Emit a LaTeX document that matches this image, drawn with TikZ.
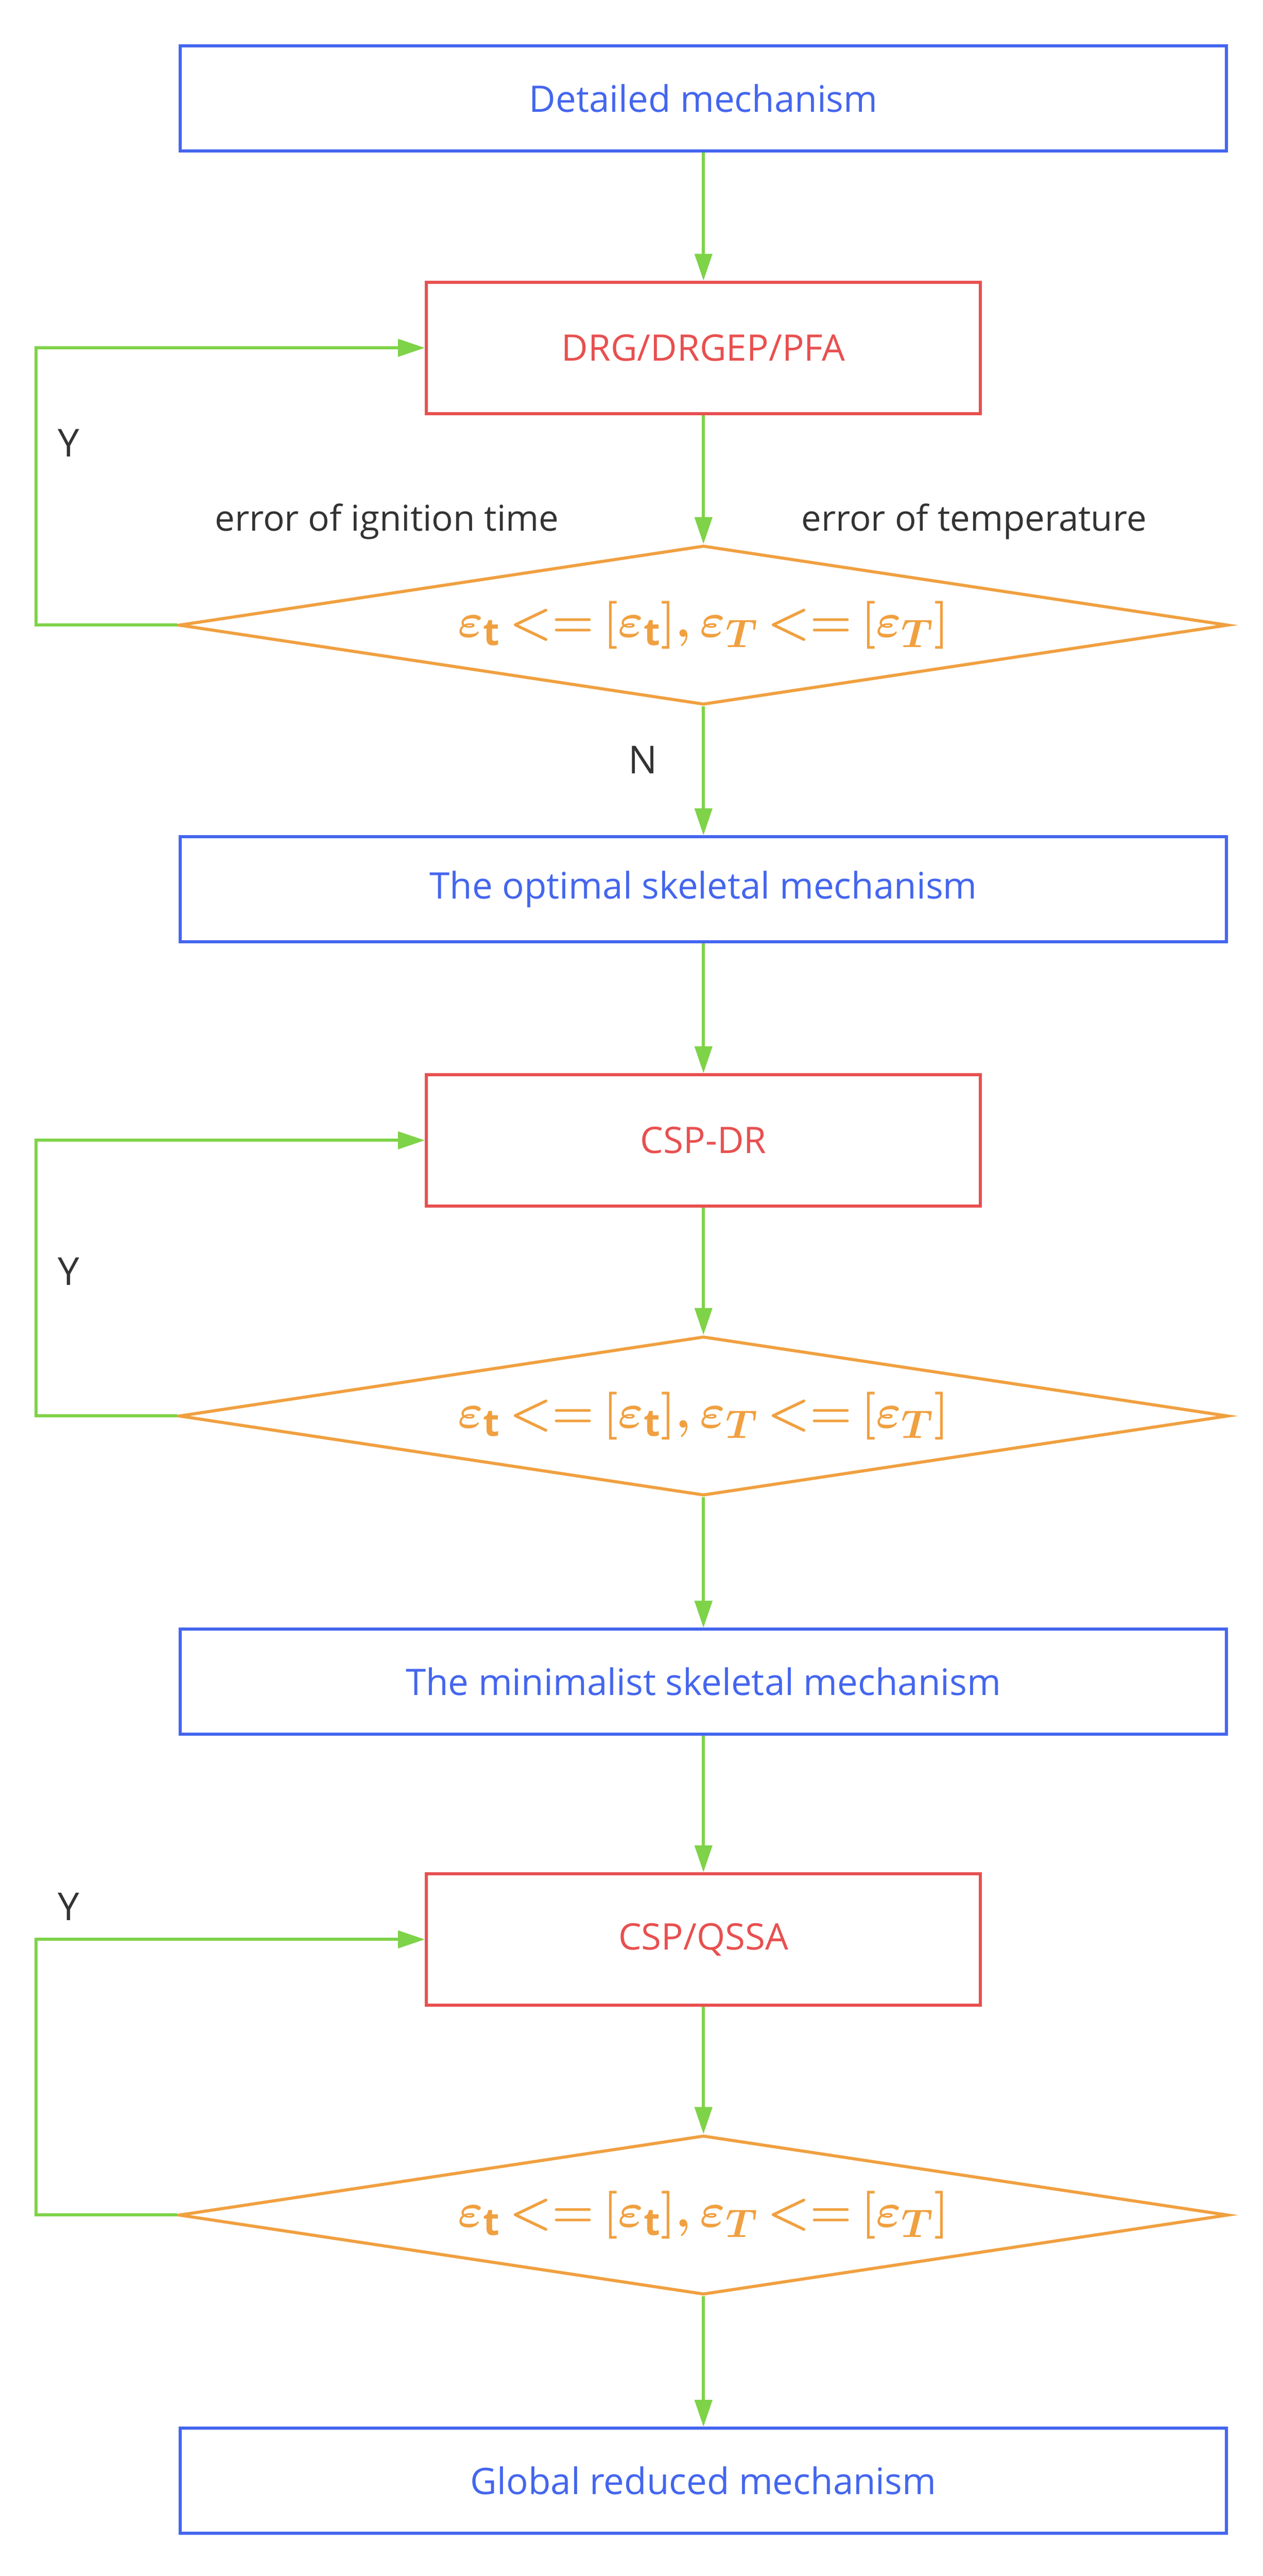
\documentclass[tikz,border=0pt]{standalone}
\usepackage{fontspec}
\setmainfont{Open Sans}
\usepackage{amsmath}
\usetikzlibrary{arrows.meta,shapes.geometric}
\definecolor{cblue}{HTML}{4466EE}
\definecolor{cred}{HTML}{E85050}
\definecolor{corange}{HTML}{F0A040}
\definecolor{cgreen}{HTML}{7ED348}
\definecolor{ctext}{HTML}{333333}
\begin{document}
\begin{tikzpicture}[x=0.03cm,y=-0.03cm,
  bbox/.style={draw=cblue,line width=1.6pt,minimum width=638*0.03cm,minimum height=64*0.03cm,text=cblue,font=\fontsize{19}{23}\selectfont,inner sep=0},
  rbox/.style={draw=cred,line width=1.6pt,minimum width=338*0.03cm,minimum height=80*0.03cm,text=cred,font=\fontsize{19}{23}\selectfont,inner sep=0},
  dia/.style={draw=corange,line width=1.6pt,diamond,aspect=6.6,minimum width=640*0.03cm,minimum height=97*0.03cm,inner sep=0,text=corange,font=\fontsize{28}{32}\selectfont\boldmath},
  arr/.style={draw=cgreen,line width=1.6pt,-{Triangle[length=14pt,width=9pt]}},
  lbl/.style={text=ctext,font=\fontsize{18.5}{22}\selectfont},
  yn/.style={text=ctext,font=\fontsize{20}{24}\selectfont}]
\useasboundingbox (0,0) rectangle (770,1570);
\newcommand{\cond}{$\varepsilon_{\mathrm{t}}\,{<}{=}\left[\varepsilon_{\mathrm{t}}\right]\!,\varepsilon_{T}\,{<}{=}\left[\varepsilon_{T}\right]$}
\node[bbox] (b1) at (429,60) {Detailed mechanism};
\node[rbox] (r1) at (429,212) {DRG/DRGEP/PFA};
\node[dia] (d1) at (429,381) {\cond};
\node[bbox] (b2) at (429,542) {The optimal skeletal mechanism};
\node[rbox] (r2) at (429,695) {CSP-DR};
\node[dia] (d2) at (429,863) {\cond};
\node[bbox] (b3) at (429,1025) {The minimalist skeletal mechanism};
\node[rbox] (r3) at (429,1182) {CSP/QSSA};
\node[dia] (d3) at (429,1350) {\cond};
\node[bbox] (b4) at (429,1512) {Global reduced mechanism};
\coordinate (l1) at (22,381); \coordinate (u1) at (22,212);
\coordinate (l2) at (22,863); \coordinate (u2) at (22,695);
\coordinate (l3) at (22,1350); \coordinate (u3) at (22,1182);
\draw[arr] (b1) -- (r1);
\draw[arr] (r1) -- (d1);
\draw[arr] (d1) -- (b2);
\draw[arr] (b2) -- (r2);
\draw[arr] (r2) -- (d2);
\draw[arr] (d2) -- (b3);
\draw[arr] (b3) -- (r3);
\draw[arr] (r3) -- (d3);
\draw[arr] (d3) -- (b4);
\draw[arr] (d1.west) -- (l1) -- (u1) -- (r1.west);
\draw[arr] (d2.west) -- (l2) -- (u2) -- (r2.west);
\draw[arr] (d3.west) -- (l3) -- (u3) -- (r3.west);
\node[yn] (y1) at (42,270) {Y};
\node[yn] (y2) at (42,775) {Y};
\node[yn] (y3) at (42,1162) {Y};
\node[yn] (n1) at (392,463) {N};
\node[lbl] (e1) at (236,318) {error of ignition time};
\node[lbl] (e2) at (594,318) {error of temperature};
\end{tikzpicture}
\end{document}
